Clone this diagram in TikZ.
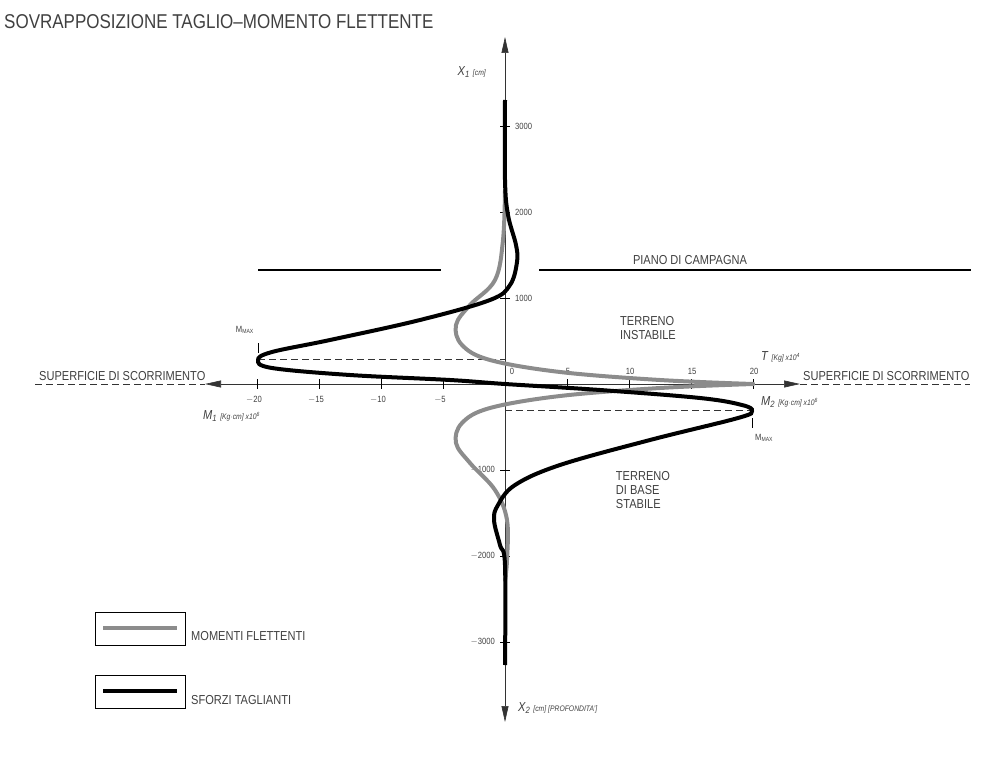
\documentclass[tikz,border=0pt]{standalone}
\usepackage{fontspec}
\setmainfont{Liberation Sans}
\usetikzlibrary{arrows.meta}
\begin{document}
\begin{tikzpicture}[x=1pt,y=-1pt,
  ax/.style={line width=0.6pt,black!80},
  dsh/.style={line width=0.6pt,dash pattern=on 7pt off 4pt,black!80},
  tick/.style={line width=0.6pt},
  txt/.style={font=\fontsize{13}{14}\selectfont\addfontfeature{FakeStretch=0.85},text=black!75,inner sep=1pt},
  sm/.style={font=\fontsize{9}{9}\selectfont\addfontfeature{FakeStretch=0.85},text=black!75,inner sep=1pt},
  blk/.style={line width=4pt,black},
  gry/.style={line width=4pt,black!45},
  arr/.style={-{Triangle[length=16pt,width=7pt]}}]
\useasboundingbox (0,0) rectangle (1000,759);
\coordinate (O) at (505,384);
% axes
\draw[dsh] (35,384) -- (205,384);
\draw[dsh] (800,384) -- (970,384);
\draw[ax,arr] (O) -- (205,384) coordinate (L);
\draw[ax,arr] (O) -- (800,384) coordinate (R);
\draw[ax,arr] (505,665) -- (505,37) coordinate (T);
\draw[ax,arr] (505,100) -- (505,722) coordinate (B);
% ground lines
\draw[line width=2.5pt] (258,270) -- (441,270);
\draw[line width=2.5pt] (539,270) -- (971,270);
% dashed helpers
\draw[dsh] (258,359) -- (505,359);
\draw[dsh] (505,410) -- (752,410);
% ticks horizontal
\foreach \x/\l in {257/20,319/15,381/10,443/5}{\draw[tick](\x,379)--(\x,389); \node[sm] at (\x-3,400){$-$\l};}
\foreach \x/\l in {567/5,629/10,691/15,753/20}{\draw[tick](\x,379)--(\x,389); \node[sm] at (\x+1,371){\l};}
\node[sm] at (512,371){0};
\foreach \y/\l in {126/3000,212/2000,298/1000}{\draw[tick](500,\y)--(510,\y); \node[sm,anchor=west] at (514,\y){\l};}
\foreach \y/\l in {470/1000,556/2000,642/3000}{\draw[tick](500,\y)--(510,\y); \node[sm,anchor=east] at (496,\y){$-$\l};}
% Mmax ticks
\draw[tick] (258,343) -- (258,353);
\draw[tick] (752,418) -- (752,428);
\node[sm,anchor=east] at (255,330){M\textsubscript{MAX}};
\node[sm,anchor=west] at (754,438){M\textsubscript{MAX}};
% curves
\draw[gry,line cap=round] plot[smooth,tension=0.6] coordinates{(505,190)(503,240)(495,280)(470,305)(456,325)(462,345)(490,360)(560,372)(660,380)(753,384)};
\draw[gry,line cap=round] plot[smooth,tension=0.6] coordinates{(753,384)(660,388)(560,396)(490,408)(462,423)(456,443)(470,463)(495,490)(507,520)(507,560)(505,580)};
\draw[blk] plot[smooth,tension=0.6] coordinates{(505,100)(505,180)(508,215)(516,245)(517,262)(510,285)(490,300)(420,320)(330,340)(272,352)(258,360)(272,368)(350,375)(450,380)(505,384)(600,390)(700,398)(742,405)(752,411)(738,418)(650,440)(560,465)(515,485)(498,505)(494,520)(500,545)(505,565)(505,665)};
% texts
\node[txt,anchor=west,font=\fontsize{20}{20}\selectfont\addfontfeature{FakeStretch=0.85}] (title) at (3,22){SOVRAPPOSIZIONE TAGLIO--MOMENTO FLETTENTE};
\node[txt,anchor=east] (x1) at (487,72){\textit{X\textsubscript{1}} {\footnotesize\itshape [cm]}};
\node[txt,anchor=west] (x2) at (517,708){\textit{X\textsubscript{2}} {\footnotesize\itshape [cm] [PROFONDITA']}};
\node[txt,anchor=west] (Tl) at (760,357){\textit{T} {\footnotesize\itshape [Kg] x10\textsuperscript{4}}};
\node[txt,anchor=west] (m1) at (202,416){\textit{M\textsubscript{1}} {\footnotesize\itshape [Kg$\cdot$cm] x10\textsuperscript{6}}};
\node[txt,anchor=west] (m2) at (760,402){\textit{M\textsubscript{2}} {\footnotesize\itshape [Kg$\cdot$cm] x10\textsuperscript{6}}};
\node[txt,anchor=west] (s1) at (38,376){SUPERFICIE DI SCORRIMENTO};
\node[txt,anchor=west] (s2) at (802,376){SUPERFICIE DI SCORRIMENTO};
\node[txt] (pc) at (690,260){PIANO DI CAMPAGNA};
\node[txt,align=left] (ti) at (648,328){TERRENO\\INSTABILE};
\node[txt,align=left] (tb) at (643,490){TERRENO\\DI BASE\\STABILE};
% legend
\draw[line width=0.7pt] (95,612) rectangle (185,645);
\draw[gry] (103,628) -- (177,628);
\draw[line width=0.7pt] (95,675) rectangle (185,708);
\draw[blk] (103,691) -- (177,691);
\node[txt,anchor=west] (lg1) at (190,636){MOMENTI FLETTENTI};
\node[txt,anchor=west] (lg2) at (190,700){SFORZI TAGLIANTI};
\end{tikzpicture}
\end{document}
